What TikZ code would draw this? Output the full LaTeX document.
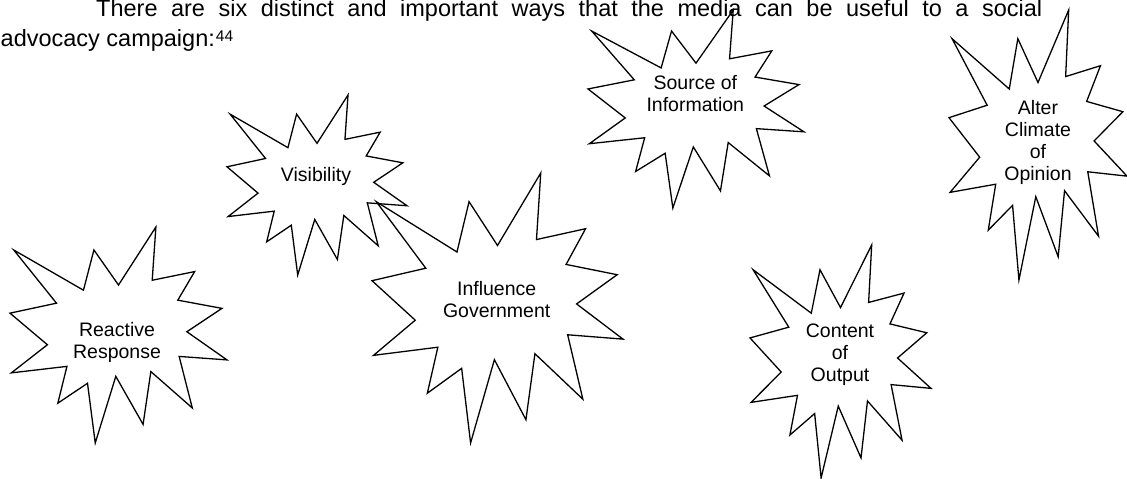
\documentclass[tikz,border=0pt]{standalone}
\usepackage{fontspec}
\setmainfont{Liberation Sans}
\tikzset{
  burst/.style={draw=black, line width=1.3pt, line join=miter},
  burstlabel/.style={align=center, inner sep=0pt, font=\fontsize{19.5}{22}\selectfont},
  bodytext/.style={anchor=base west, inner sep=0pt, font=\fontsize{23.5}{27}\selectfont}
}
\begin{document}
\begin{tikzpicture}[x=1pt, y=-1pt]
\useasboundingbox (0,0) rectangle (1127,479);
\node[bodytext] (line1) at (96,16.5) {\makebox[946pt][s]{There are six distinct and important ways that the media can be useful to a social}};
\node[bodytext] (line2) at (0.5,46.7) {advocacy campaign:\hspace{1pt}\raisebox{5pt}{\fontsize{15.5}{15.5}\selectfont 44}};
\foreach \bx/\by/\bw/\bh in {10/227/217/216, 227/95/180/180, 372/173/251/270,
    588/10/216/198, 949/10/178/270, 750/245/181/233}
  \draw[burst, shift={(\bx,\by)}, xscale=\bw/216, yscale=\bh/216]
    plot coordinates {(108,58) (145.22,0) (141.55,53.25) (183.80,44.57)
      (167.02,73.15) (210.97,81.37) (176.07,104.75) (216,132.90)
      (168.37,129.42) (181.45,180.95) (140.20,144.57) (132.47,197.37)
      (105.32,149.35) (84.85,216) (77.15,156.27) (47.62,176.17)
      (56.67,139.37) (1.35,145.87) (37.22,117.75) (0,86.15)
      (46.27,76.17) (3.70,22.95) (73.12,63.20) (83.52,22.95)} -- cycle;
\node[burstlabel] (reactive) at (117,342.4) {Reactive\\Response};
\node[burstlabel] (visibility) at (316,176.7) {Visibility};
\node[burstlabel] (influence) at (496.7,299.2) {Influence\\Government};
\node[burstlabel] (source) at (695.3,93.8) {Source of\\Information};
\node[burstlabel] (alter) at (1038,142.5) {Alter\\Climate\\of\\Opinion};
\node[burstlabel] (content) at (840,354.5) {Content\\of\\Output};
\end{tikzpicture}
\end{document}
